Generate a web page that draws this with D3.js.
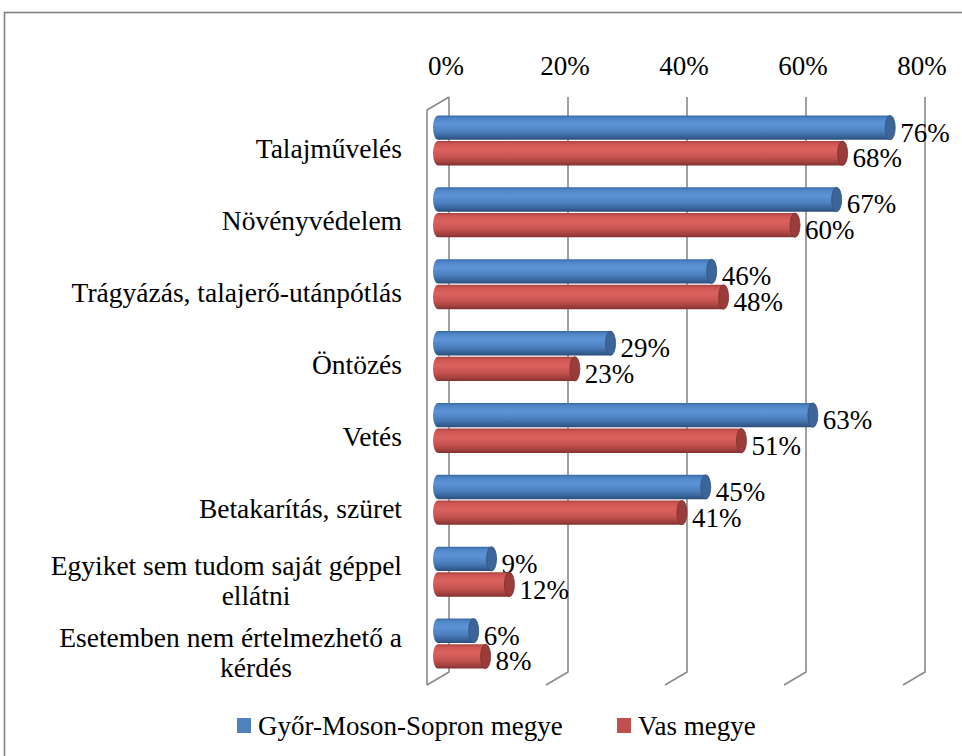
<!DOCTYPE html>
<html>
<head>
<meta charset="utf-8">
<script src="https://cdn.jsdelivr.net/npm/d3@7"></script>
<style>
  body { margin: 0; background: #fff; }
  text { font-family: "Liberation Serif", "Times New Roman", Tinos, "DejaVu Serif", serif; fill: #000; }
  .tickLabel, .valueLabel { font-size: 27px; }
  .catLabel { font-size: 27.5px; }
  .legendLabel { font-size: 27px; }
  .grid { stroke: #8a8a8a; stroke-width: 1.6; fill: none; }
</style>
</head>
<body>
<svg width="962" height="756"></svg>
<script>
// chart data
var categories = ["Talajművelés", "Növényvédelem", "Trágyázás, talajerő-utánpótlás", "Öntözés",
                  "Vetés", "Betakarítás, szüret", "Egyiket sem tudom saját géppel\nellátni",
                  "Esetemben nem értelmezhető a\nkérdés"];
var seriesNames = ["Győr-Moson-Sopron megye", "Vas megye"];
var gyorValues = [0.76, 0.67, 0.46, 0.29, 0.63, 0.45, 0.09, 0.06];
var vasValues  = [0.68, 0.60, 0.48, 0.23, 0.51, 0.41, 0.12, 0.08];
var tickValues = [0, 0.2, 0.4, 0.6, 0.8];

var svg = d3.select("svg");

// 3d box: front wall, back wall offset by depth
var frontX = 427, frontTop = 110, frontBottom = 685,
    depthX = 22, depthY = -13;

var x = d3.scaleLinear().domain([0, 0.8]).range([0, 476]);
// bars sit half way into the depth
var y = d3.scaleBand().domain(categories)
    .range([frontTop + depthY / 2, frontBottom + depthY / 2]);
var ySub = d3.scaleBand().domain(seriesNames).range([0, 50]).paddingInner(0.05);

var colors = [
  {base: "#4F81BD", stops: ["#3b6aa3", "#4f86c7", "#5c94d7", "#4c80c0", "#365f93", "#2b4c78"], cap: "#3c659a"},
  {base: "#C0504D", stops: ["#a94543", "#cf5653", "#dc625f", "#c75451", "#9c3e3c", "#7e302e"], cap: "#9a3c3a"}
];

// frame around the whole chart
svg.append("rect")
    .attr("x", 4.5).attr("y", 12.5)
    .attr("width", 980).attr("height", 760)
    .style("fill", "none").style("stroke", "#808080").style("stroke-width", 1.6);

var defs = svg.append("defs");
colors.forEach(function (c, i) {
  var grad = defs.append("linearGradient")
      .attr("id", "cyl" + i)
      .attr("x1", 0).attr("y1", 0).attr("x2", 0).attr("y2", 1);
  var offs = [0, 0.12, 0.35, 0.65, 0.9, 1];
  c.stops.forEach(function (s, k) {
    grad.append("stop").attr("offset", offs[k]).attr("stop-color", s);
  });
});

// gridlines (back wall + floor slants)
var grid = svg.append("g").attr("class", "gridlines");
tickValues.forEach(function (t) {
  var bx = frontX + depthX + x(t);
  grid.append("path").attr("class", "grid")
      .attr("d", "M" + bx + "," + (frontTop + depthY) + "V" + (frontBottom + depthY) +
                 "L" + (bx - depthX) + "," + frontBottom);
});
// left side wall
grid.append("path").attr("class", "grid")
    .attr("d", "M" + (frontX + depthX) + "," + (frontTop + depthY) + "L" + frontX + "," + frontTop +
               "V" + frontBottom);

// axis labels on top
svg.append("g").selectAll("text")
    .data(tickValues)
    .enter().append("text")
    .attr("class", "tickLabel")
    .attr("x", function (d) { return frontX + depthX + x(d) - 3; })
    .attr("y", 75)
    .style("text-anchor", "middle")
    .text(function (d) { return Math.round(d * 100) + "%"; });

// category labels
var catG = svg.append("g").selectAll("text")
    .data(categories)
    .enter().append("text")
    .attr("class", "catLabel")
    .attr("y", function (d) { return y(d) + y.bandwidth() / 2 + 19; });
catG.each(function (d) {
  var lines = d.split("\n"), t = d3.select(this);
  if (lines.length === 1) {
    t.attr("x", 402).style("text-anchor", "end").text(d);
  } else {
    t.attr("y", +t.attr("y") - 15);
    t.append("tspan").attr("x", 402).style("text-anchor", "end").text(lines[0]);
    t.append("tspan").attr("x", 256).attr("dy", 30).style("text-anchor", "middle").text(lines[1]);
  }
});

// bars
var barX0 = frontX + depthX / 2;
var rx = 5;
var rows = categories.map(function (c, i) {
  return [{cat: c, s: 0, v: gyorValues[i]}, {cat: c, s: 1, v: vasValues[i]}];
});

var groups = svg.append("g").selectAll("g")
    .data(rows)
    .enter().append("g")
    .attr("transform", function (d) {
      return "translate(0," + (y(d[0].cat) + y.bandwidth() / 2 - 24) + ")";
    });

var bar = groups.selectAll("g")
    .data(function (d) { return d; })
    .enter().append("g")
    .attr("transform", function (d) { return "translate(0," + ySub(seriesNames[d.s]) + ")"; });

var h = ySub.bandwidth();
bar.append("path") // cylinder body with rounded left end
    .attr("d", function (d) {
      var x1 = barX0 + x(d.v);
      return "M" + barX0 + ",0A" + rx + "," + (h / 2) + " 0 0 0 " + barX0 + "," + h +
             "L" + x1 + "," + h + "L" + x1 + ",0Z";
    })
    .style("fill", function (d) { return "url(#cyl" + d.s + ")"; });

bar.append("ellipse") // right cap
    .attr("cx", function (d) { return barX0 + x(d.v); })
    .attr("cy", h / 2)
    .attr("rx", rx).attr("ry", h / 2)
    .style("fill", function (d) { return colors[d.s].cap; })
    .style("stroke", function (d) { return d3.rgb(colors[d.s].cap).darker(0.6); })
    .style("stroke-width", 0.8);

bar.append("text")
    .attr("class", "valueLabel")
    .attr("x", function (d) { return barX0 + x(d.v) + rx + 5; })
    .attr("y", h / 2 + 14)
    .text(function (d) { return Math.round(d.v * 100) + "%"; });

// legend
var legend = svg.append("g");
var legendX = [237, 617];
seriesNames.forEach(function (name, i) {
  legend.append("rect")
      .attr("x", legendX[i]).attr("y", 718)
      .attr("width", 14).attr("height", 15)
      .style("fill", colors[i].base);
  legend.append("text")
      .attr("class", "legendLabel")
      .attr("x", legendX[i] + 21).attr("y", 735)
      .text(name);
});
</script>
</body>
</html>
